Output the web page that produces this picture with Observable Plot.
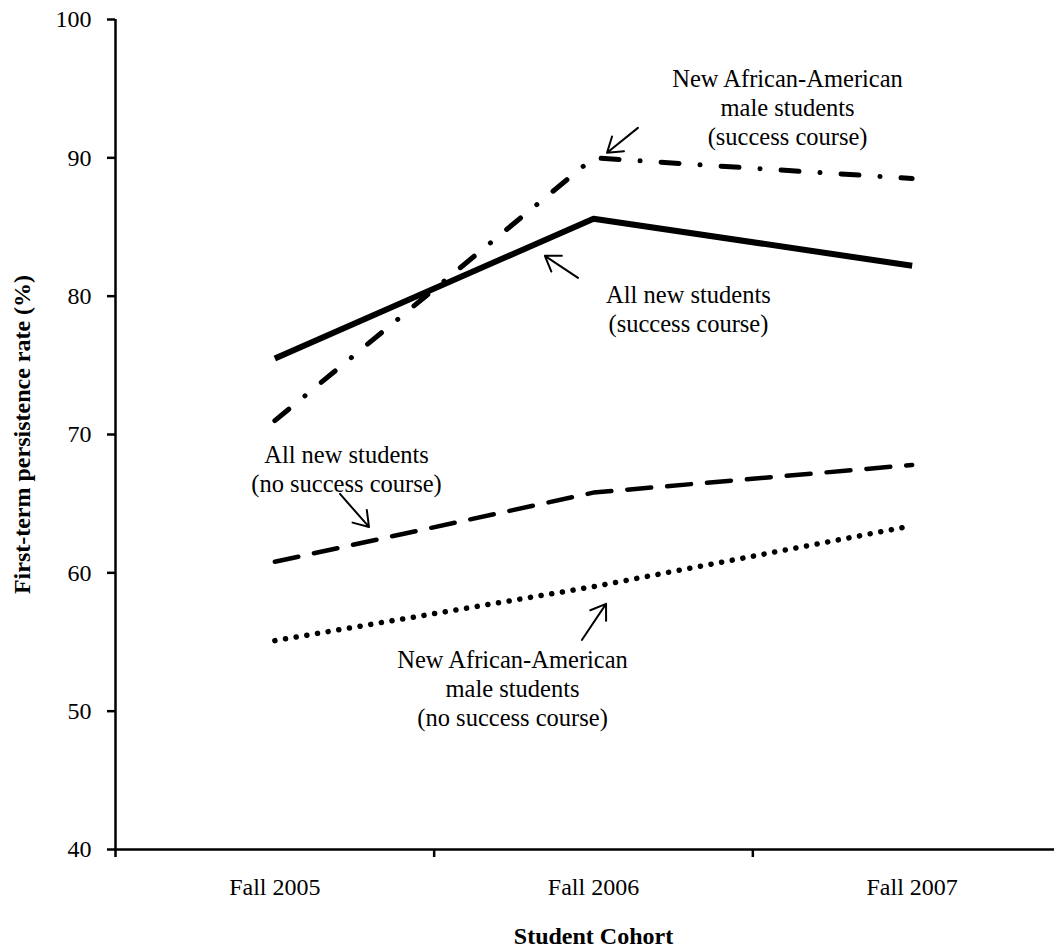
<!DOCTYPE html>
<html>
<head>
<meta charset="utf-8">
<script src="https://cdn.jsdelivr.net/npm/d3@7"></script>
<script src="https://cdn.jsdelivr.net/npm/@observablehq/plot@0.6"></script>
<style>
  html, body { margin: 0; padding: 0; background: #fff; overflow: hidden; }
  #chart { width: 1054px; height: 948px; }
</style>
</head>
<body>
<div id="chart"></div>
<script>
// ---- data ----
const cohorts = ["Fall 2005", "Fall 2006", "Fall 2007"];
const allNewSuccess   = [75.5, 85.6, 82.2];
const aaMaleSuccess   = [71.0, 90.0, 88.5];
const allNewNoSuccess = [60.8, 65.8, 67.8];
const aaMaleNoSuccess = [55.1, 59.0, 63.4];
const yTicks = [40, 50, 60, 70, 80, 90, 100];
const xBoundaries = [-0.5, 0.5, 1.5, 2.5];

const annotationText = [
  "New African-American\nmale students\n(success course)",
  "All new students\n(success course)",
  "All new students\n(no success course)",
  "New African-American\nmale students\n(no success course)"
];
// annotation anchor positions (x: cohort index, y: rate)
const annotationX = [1.609, 1.298, 0.225, 0.746];
const annotationY = [93.72, 79.15, 67.59, 51.71];
// arrows: start and end in (cohort index, rate)
const arrowX1 = [1.141, 0.953, 0.206, 0.965];
const arrowY1 = [92.13, 81.29, 65.67, 55.11];
const arrowX2 = [1.044, 0.849, 0.297, 1.041];
const arrowY2 = [90.33, 82.88, 63.28, 57.72];

// ---- build tables ----
const series = (vals) => vals.map((v, i) => ({x: i, y: v}));
const annotations = annotationText.map((t, i) => ({t, x: annotationX[i], y: annotationY[i]}));
const arrows = arrowX1.map((_, i) => ({x1: arrowX1[i], y1: arrowY1[i], x2: arrowX2[i], y2: arrowY2[i]}));

const FONT = "'Liberation Serif', 'Times New Roman', Times, serif";

// open-headed arrows drawn through the plot's scales
function arrowMark(index, scales) {
  const g = d3.create("svg:g").attr("fill", "none").attr("stroke", "black")
    .attr("stroke-width", 2).attr("stroke-linecap", "round").attr("stroke-linejoin", "round");
  const wing = 17, half = 34 * Math.PI / 180;
  for (const a of arrows) {
    const x1 = scales.x(a.x1), y1 = scales.y(a.y1), x2 = scales.x(a.x2), y2 = scales.y(a.y2);
    const ang = Math.atan2(y1 - y2, x1 - x2);
    const wa = [x2 + wing * Math.cos(ang + half), y2 + wing * Math.sin(ang + half)];
    const wb = [x2 + wing * Math.cos(ang - half), y2 + wing * Math.sin(ang - half)];
    g.append("path").attr("d", `M${x1},${y1}L${x2},${y2}M${wa[0]},${wa[1]}L${x2},${y2}L${wb[0]},${wb[1]}`);
  }
  return g.node();
}

const chart = Plot.plot({
  width: 1054,
  height: 948,
  marginLeft: 115,
  marginRight: 0,
  marginTop: 19,
  marginBottom: 99,
  style: {fontFamily: FONT, fontSize: "24px", color: "black", background: "white", overflow: "hidden"},
  x: {domain: [-0.5, 2.5], range: [115, 1071]},
  y: {domain: [40, 100]},
  marks: [
    // axes lines
    Plot.ruleX([-0.5], {y1: 40, y2: 100, stroke: "black", strokeWidth: 2.5}),
    Plot.ruleY([40], {x1: -0.5, x2: 2.5, stroke: "black", strokeWidth: 2.5}),
    Plot.axisY({ticks: yTicks, tickSize: 8, tickPadding: 16, fontSize: 24, strokeWidth: 2.5, label: null, tickFormat: d => d}),
    Plot.axisX({ticks: xBoundaries, tickSize: 8, strokeWidth: 2.5, tickFormat: () => "", label: null}),
    Plot.axisX({ticks: [0, 1, 2], tickSize: 0, tickPadding: 28, fontSize: 24, tickFormat: i => cohorts[i], label: null}),
    // axis titles
    Plot.text(["Student Cohort"], {x: 1, y: 40, dy: 87, text: d => d, fontSize: 24, fontWeight: "bold", fill: "black"}),
    Plot.text(["First-term persistence rate (%)"], {x: -0.5, y: 70, dx: -93, rotate: -90, text: d => d, fontSize: 24, fontWeight: "bold", fill: "black"}),
    // lines
    Plot.line(series(allNewSuccess), {x: "x", y: "y", stroke: "black", strokeWidth: 6, strokeLinecap: "butt", strokeLinejoin: "round"}),
    Plot.line(series(aaMaleSuccess), {x: "x", y: "y", stroke: "black", strokeWidth: 5, strokeLinecap: "round", strokeDasharray: "18 21 0.1 21"}),
    Plot.line(series(allNewNoSuccess), {x: "x", y: "y", stroke: "black", strokeWidth: 4.5, strokeLinecap: "round", strokeDasharray: "24 16"}),
    Plot.line(series(aaMaleNoSuccess), {x: "x", y: "y", stroke: "black", strokeWidth: 5.5, strokeLinecap: "round", strokeDasharray: "0.1 10.7"}),
    // arrows
    arrowMark,
    // annotations
    Plot.text(annotations, {x: "x", y: "y", text: "t", fontSize: 24.5, lineHeight: 1.18, textAnchor: "middle", lineAnchor: "middle", fill: "black"})
  ]
});
document.getElementById("chart").appendChild(chart);
</script>
</body>
</html>
